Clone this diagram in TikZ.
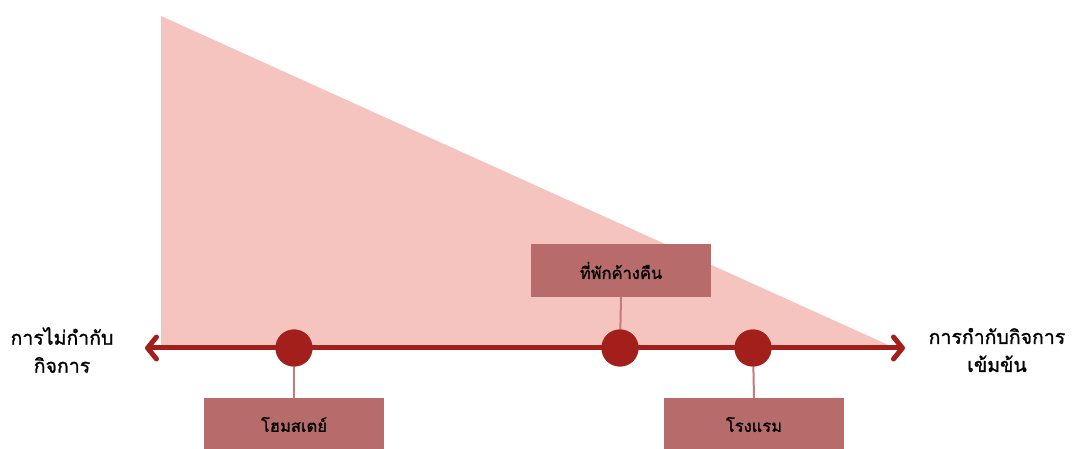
\documentclass[tikz,border=0pt]{standalone}
\usepackage{fontspec}
\newfontfamily\thaifont[Script=Thai,FakeBold=1.2]{Loma}
\usetikzlibrary{arrows.meta}
\definecolor{tri}{HTML}{F5C4BE}
\definecolor{axis}{HTML}{A31F1C}
\definecolor{boxc}{HTML}{B76B6B}
\definecolor{stem}{HTML}{C77A7A}
\tikzset{
  dot/.style={circle,fill=axis,minimum size=37pt,inner sep=0pt},
  catbox/.style={rectangle,fill=boxc,minimum width=180pt,minimum height=53pt,inner sep=0pt,font=\thaifont\fontsize{16.5}{19}\selectfont},
  endlabel/.style={align=center,font=\thaifont\fontsize{19.5}{28}\selectfont},
  stemline/.style={draw=stem,line width=2pt},
}
\begin{document}
\begin{tikzpicture}[x=1pt,y=-1pt]
\useasboundingbox (0,0) rectangle (1072,449);
\fill[tri] (161,16) -- (895,348) -- (161,348) -- cycle;
\coordinate (L) at (145,348);
\coordinate (R) at (905,348);
\node[dot] (d1) at (294,348) {};
\node[dot] (d2) at (620,348) {};
\node[dot] (d3) at (753,348) {};
\node[catbox] (b2) at (621,270.5) {ที่พักค้างคืน};
\node[catbox] (b1) at (294,424.5) {โฮมสเตย์};
\node[catbox] (b3) at (754,424.5) {โรงแรม};
\draw[stemline] (b2.south) -- (d2.center);
\draw[stemline] (d1.center) -- (b1.north);
\draw[stemline] (d3.center) -- (b3.north);
\draw[axis,line width=5pt,{Straight Barb[length=9pt,width=22pt,line cap=round,line join=round]}-{Straight Barb[length=9pt,width=22pt,line cap=round,line join=round]}] (L) -- (R);
\node[dot] at (d1) {};
\node[dot] at (d2) {};
\node[dot] at (d3) {};
\node[endlabel] (lt) at (62,350) {การไม่กำกับ\\กิจการ};
\node[endlabel] (rt) at (997,350) {การกำกับกิจการ\\เข้มข้น};
\end{tikzpicture}
\end{document}
